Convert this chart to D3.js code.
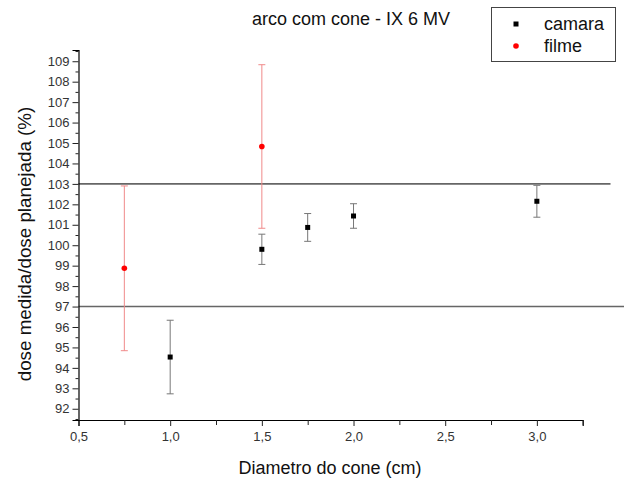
<!DOCTYPE html>
<head>
    <meta charset="utf-8">
    <script src="https://d3js.org/d3.v7.min.js"></script>
    <style>
        body { margin: 0; background: #fff; }
        svg { display: block; font-family: "Liberation Sans", Arial, sans-serif; }
    </style>
</head>
<body>
    <script>
        // data
        const camaraX = [1.0, 1.5, 1.75, 2.0, 3.0],
            camaraY = [94.53, 99.8, 100.87, 101.43, 102.15],
            camaraErr = [1.8, 0.74, 0.68, 0.6, 0.78];
        const filmeX = [0.75, 1.5],
            filmeY = [98.87, 104.83],
            filmeErr = [4.03, 4.0];
        const refLines = [103, 97];
        const xTicks = [0.5, 1.0, 1.5, 2.0, 2.5, 3.0],
            xMinor = [0.75, 1.25, 1.75, 2.25, 2.75, 3.25];
        const yTicks = d3.range(92, 110),
            yMinor = d3.range(91.5, 110, 1);

        const width = 624, height = 482;
        const svg = d3.select("body").append("svg")
            .attr("width", width).attr("height", height);

        const x = d3.scaleLinear().domain([0.5, 3.25]).range([78.5, 582.7]),
            y = d3.scaleLinear().domain([91.45, 109.55]).range([420, 50]);

        const comma = d => d3.format(".1f")(d).replace(".", ",");

        // reference lines (97 runs to the edge, 103 stops a bit short)
        svg.selectAll("line.ref")
            .data(refLines)
            .enter().append("line")
            .attr("class", "ref")
            .attr("x1", x.range()[0])
            .attr("x2", (d, i) => i === 0 ? 610.5 : width)
            .attr("y1", d => y(d)).attr("y2", d => y(d))
            .attr("stroke", "#666").attr("stroke-width", 1.6);

        // axes
        const gx = svg.append("g").attr("transform", `translate(0,${y.range()[0]})`);
        gx.call(d3.axisBottom(x).tickValues(xTicks).tickFormat(comma).tickSize(6).tickPadding(6));
        gx.append("g").call(d3.axisBottom(x).tickValues(xMinor).tickFormat("").tickSize(5))
            .select(".domain").remove();

        const gy = svg.append("g").attr("transform", `translate(${x.range()[0]},0)`);
        gy.call(d3.axisLeft(y).tickValues(yTicks).tickFormat(d3.format("d")).tickSize(6).tickPadding(3));
        gy.append("g").call(d3.axisLeft(y).tickValues(yMinor).tickFormat("").tickSize(3))
            .select(".domain").remove();

        svg.selectAll(".domain").attr("stroke", "#000").attr("stroke-width", 1.2);
        svg.selectAll(".tick line").attr("stroke", "#222");
        svg.selectAll(".tick text").attr("font-size", 13).attr("fill", "#333")
            .attr("font-family", "Liberation Sans, Arial, sans-serif");

        // error bars + markers
        function series(xs, ys, es, barColor, markColor, shape) {
            const g = svg.append("g");
            const pts = xs.map((d, i) => ({ x: d, y: ys[i], e: es[i] }));
            const cap = 3.5;
            pts.forEach(p => {
                const px = x(p.x);
                g.append("line").attr("x1", px).attr("x2", px)
                    .attr("y1", y(p.y - p.e)).attr("y2", y(p.y + p.e))
                    .attr("stroke", barColor).attr("stroke-width", 1);
                [p.y - p.e, p.y + p.e].forEach(v => {
                    g.append("line").attr("x1", px - cap).attr("x2", px + cap)
                        .attr("y1", y(v)).attr("y2", y(v))
                        .attr("stroke", barColor).attr("stroke-width", 1);
                });
                if (shape === "square") {
                    g.append("rect").attr("x", px - 2.5).attr("y", y(p.y) - 2.5)
                        .attr("width", 5).attr("height", 5).attr("fill", markColor);
                } else {
                    g.append("circle").attr("cx", px).attr("cy", y(p.y))
                        .attr("r", 2.8).attr("fill", markColor);
                }
            });
        }
        series(camaraX, camaraY, camaraErr, "#777", "#000", "square");
        series(filmeX, filmeY, filmeErr, "#f08a8a", "#f00", "circle");

        // title and axis labels
        svg.append("text").attr("x", 351).attr("y", 25)
            .attr("text-anchor", "middle").attr("font-size", 18).attr("fill", "#111")
            .text("arco com cone - IX 6 MV");
        svg.append("text").attr("x", 330).attr("y", 474)
            .attr("text-anchor", "middle").attr("font-size", 18).attr("fill", "#111")
            .text("Diametro do cone (cm)");
        svg.append("text")
            .attr("transform", "translate(31,244) rotate(-90)")
            .attr("text-anchor", "middle").attr("font-size", 18.8).attr("fill", "#111")
            .text("dose medida/dose planejada (%)");

        // legend
        const lg = svg.append("g");
        lg.append("rect").attr("x", 491.5).attr("y", 7.5).attr("width", 124).attr("height", 54)
            .attr("fill", "#fff").attr("stroke", "#444").attr("stroke-width", 1);
        lg.append("rect").attr("x", 513.5).attr("y", 21.5).attr("width", 5).attr("height", 5).attr("fill", "#000");
        lg.append("circle").attr("cx", 516).attr("cy", 46).attr("r", 2.8).attr("fill", "#f00");
        lg.append("text").attr("x", 544).attr("y", 30).attr("font-size", 18).attr("fill", "#111").text("camara");
        lg.append("text").attr("x", 544).attr("y", 52).attr("font-size", 18).attr("fill", "#111").text("filme");
    </script>
</body>
